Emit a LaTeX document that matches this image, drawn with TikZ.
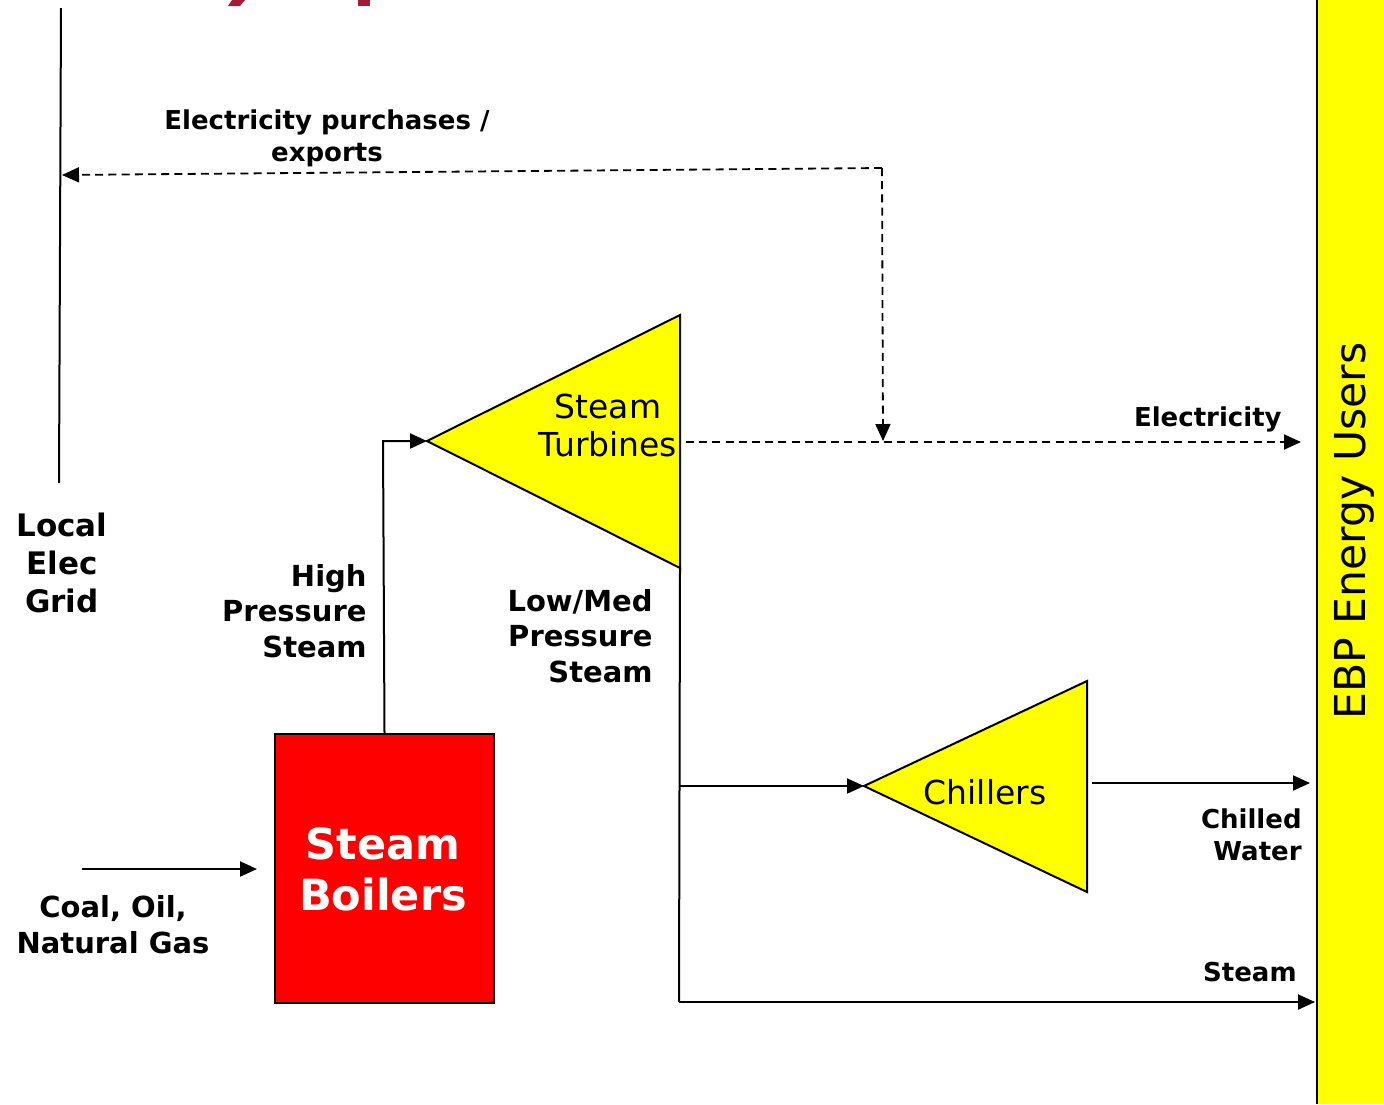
\documentclass[tikz,border=0pt]{standalone}
\usepackage{fontspec}
\setmainfont{DejaVu Sans}
\usetikzlibrary{arrows.meta}
\definecolor{titlered}{HTML}{A31C37}
\definecolor{unityellow}{RGB}{255,255,0}
\definecolor{boilerred}{RGB}{255,0,0}
\tikzset{
  flow/.style={line width=1pt, -{Triangle[length=8.5pt,width=7.5pt]}},
  plain/.style={line width=1pt},
  dashflow/.style={line width=0.9pt, dash pattern=on 4pt off 2.6pt, -{Triangle[length=8.5pt,width=7.5pt]}},
  unit/.style={draw=black, line width=1pt, fill=unityellow},
  lbl/.style={inner sep=0pt, font=\bfseries\fontsize{13}{16}\selectfont},
  biglbl/.style={inner sep=0pt, font=\bfseries\fontsize{14.5}{17.75}\selectfont},
}
\begin{document}
\begin{tikzpicture}[x=0.5pt,y=-0.5pt]
\useasboundingbox (0,0) rectangle (1384,1104);
% title descenders at the top edge
\fill[titlered] (232,0) -- (245,0) -- (240,6) -- (228,6) -- cycle;
\fill[titlered] (358,0) -- (370,0) -- (370,6) -- (358,6) -- cycle;

% energy users bar
\node[fill=unityellow, minimum width=67pt, inner sep=0pt, anchor=north west,
      minimum height=552pt] (users) at (1317,0) {};
\draw[line width=1.2pt] (1317,0) -- (1317,1104);
\node[rotate=90, inner sep=0pt, font=\fontsize{21.3}{25}\selectfont] (userstxt) at (1354,531) {EBP Energy Users};

% local grid
\coordinate (gridtop) at (61,8);
\coordinate (gridbot) at (59,483);
\draw[plain] (gridtop) -- (gridbot);
\node[inner sep=0pt, align=center, font=\bfseries\fontsize{15.5}{19}\selectfont] (grid) at (62,563) {Local\\Elec\\Grid};

% boiler
\node[draw=black, line width=1pt, fill=boilerred, minimum width=109.5pt, minimum height=134.5pt,
      inner sep=0pt, anchor=north west] (boiler) at (274,733) {};
\node[text=white, align=center, inner sep=0pt, font=\bfseries\fontsize{21.5}{25.5}\selectfont] (boilertxt) at (383,869) {Steam\\Boilers};

% turbine
\draw[unit] (427,441) coordinate (turbin) -- (680,315) -- (680,568) coordinate (turbbot) -- cycle;
\coordinate (turbout) at (686,442);
\node[align=center, inner sep=0pt, font=\fontsize{16.5}{19}\selectfont] (turbtxt) at (608,425) {Steam\\Turbines};

% chillers
\draw[unit] (864,786) coordinate (chillin) -- (1087,681) -- (1087,892) -- cycle;
\node[inner sep=0pt, font=\fontsize{16.5}{19}\selectfont] (chilltxt) at (985,792) {Chillers};
\coordinate (chillout) at (1092,783);

% fuel input
\coordinate (fuel) at (82,869);
\draw[flow] (fuel) -- (257,869);
\node[lbl, align=center, font=\bfseries\fontsize{14.5}{18}\selectfont] (fueltxt) at (113,925) {Coal, Oil,\\Natural Gas};

% high pressure steam
\draw[flow] (boiler.north) -- (383,441) -- (turbin);
\node[biglbl, align=right, anchor=east] (hptxt) at (367,611) {High\\Pressure\\Steam};

% low / medium pressure steam
\coordinate (lpbot) at (679,1002);
\coordinate (lpchill) at (680,786);
\draw[plain] (turbbot) -- (lpbot);
\node[biglbl, align=right, anchor=east] (lptxt) at (653,636) {Low/Med\\Pressure\\Steam};
\draw[flow] (lpchill) -- (chillin);

% outputs to users
\coordinate (elecend) at (1301,442);
\draw[dashflow] (turbout) -- (elecend);
\node[lbl, anchor=east] (electxt) at (1282,419) {Electricity};

\coordinate (cwend) at (1310,783);
\draw[flow] (chillout) -- (cwend);
\node[lbl, align=right, anchor=east] (cwtxt) at (1302,835) {Chilled\\Water};

\coordinate (stend) at (1315,1002);
\draw[flow] (lpbot) -- (stend);
\node[lbl, anchor=east] (sttxt) at (1297,972) {Steam};

% purchases / exports
\coordinate (xcorner) at (882,168);
\coordinate (xdown) at (883,441);
\coordinate (xgrid) at (62,175);
\draw[dashflow] (xcorner) -- (xgrid);
\draw[dashflow] (xcorner) -- (xdown);
\node[lbl, align=center] (xtxt) at (327,138) {Electricity purchases /\\exports};
\end{tikzpicture}
\end{document}
